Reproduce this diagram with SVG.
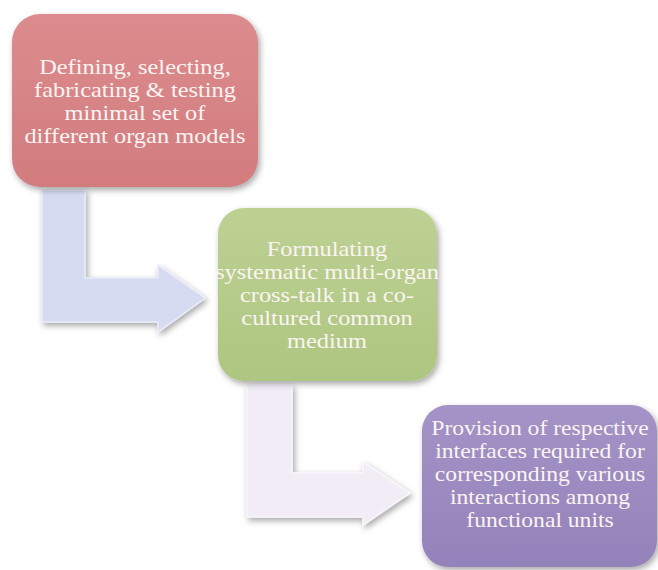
<svg xmlns="http://www.w3.org/2000/svg" width="658" height="570" viewBox="0 0 658 570">
<defs>
<filter id="sh" x="-10%" y="-10%" width="125%" height="125%">
<feGaussianBlur in="SourceAlpha" stdDeviation="3"/>
<feOffset dx="2" dy="3" result="b"/>
<feComponentTransfer><feFuncA type="linear" slope="0.35"/></feComponentTransfer>
<feMerge><feMergeNode/><feMergeNode in="SourceGraphic"/></feMerge>
</filter>
<linearGradient id="g1" x1="0" y1="0" x2="0" y2="1"><stop offset="0" stop-color="#DC8C8E"/><stop offset="1" stop-color="#D27C7E"/></linearGradient>
<linearGradient id="g2" x1="0" y1="0" x2="0" y2="1"><stop offset="0" stop-color="#BDD193"/><stop offset="1" stop-color="#AEC681"/></linearGradient>
<linearGradient id="g3" x1="0" y1="0" x2="0" y2="1"><stop offset="0" stop-color="#A393C6"/><stop offset="1" stop-color="#9483BA"/></linearGradient>
</defs>
<style>
.t{font-family:"Liberation Serif","Times New Roman",serif;font-size:20px;fill:#FBF4F2;text-anchor:middle}
.ar{stroke-width:1.5;stroke-linejoin:miter}
</style>
<rect width="658" height="570" fill="#FFFFFF"/>
<g id="connectors">
<path class="ar" filter="url(#sh)" d="M42,190 H85 V278 H158 V265 L205,298 L158,332 V322 H42 Z" fill="#D6DBF1" stroke="#E9ECF8"/>
<path class="ar" filter="url(#sh)" d="M247,385 H292 V473 H363 V462 L410,493 L363,525 V517 H247 Z" fill="#F1ECF6" stroke="#F8F5FB"/>
</g>
<g id="node1">
<rect x="12" y="14" width="246" height="173" rx="28" fill="url(#g1)" filter="url(#sh)"/>
<text class="t" transform="translate(135,0) scale(1.22,1)"><tspan x="0" y="74">Defining, selecting,</tspan><tspan x="0" y="97">fabricating &amp; testing</tspan><tspan x="0" y="120">minimal set of</tspan><tspan x="0" y="143">different organ models</tspan></text>
</g>
<g id="node2">
<rect x="218" y="208" width="219" height="173" rx="26" fill="url(#g2)" filter="url(#sh)"/>
<text class="t" transform="translate(327,0) scale(1.22,1)"><tspan x="0" y="256">Formulating</tspan><tspan x="0" y="279">systematic multi-organ</tspan><tspan x="0" y="302">cross-talk in a co-</tspan><tspan x="0" y="325">cultured common</tspan><tspan x="0" y="348">medium</tspan></text>
</g>
<g id="node3">
<rect x="422" y="405" width="235" height="162" rx="26" fill="url(#g3)" filter="url(#sh)"/>
<text class="t" transform="translate(540,0) scale(1.18,1)"><tspan x="0" y="435">Provision of respective</tspan><tspan x="0" y="458">interfaces required for</tspan><tspan x="0" y="481">corresponding various</tspan><tspan x="0" y="504">interactions among</tspan><tspan x="0" y="527">functional units</tspan></text>
</g>
</svg>
